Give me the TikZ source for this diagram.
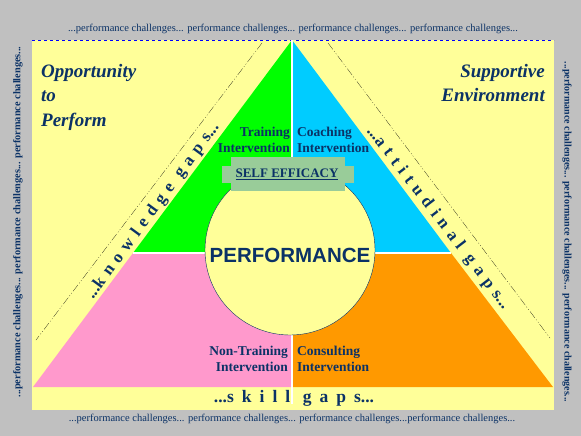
\documentclass[tikz,border=0pt]{standalone}
\usepackage{fontspec}
\setmainfont{Liberation Serif}
\newfontfamily\perffont{Liberation Sans}
\newfontfamily\gapfont[LetterSpace=36]{Liberation Serif}
\newfontfamily\widegapfont[LetterSpace=46]{Liberation Serif}
\newfontfamily\dotfont{Liberation Serif}
\newcommand{\gapdots}{{\dotfont\bfseries...}}
\usetikzlibrary{positioning}
\definecolor{navy}{HTML}{0B3266}
\definecolor{bggrey}{HTML}{C0C0C0}
\definecolor{paleyellow}{HTML}{FFFF99}
\definecolor{trainfill}{HTML}{00FF00}
\definecolor{coachfill}{HTML}{00CCFF}
\definecolor{nontrainfill}{HTML}{FF99CC}
\definecolor{consultfill}{HTML}{FF9900}
\definecolor{effgreen}{HTML}{99CC99}
\tikzset{
  border text/.style = {text = navy, font = \fontsize{10.5}{11}\selectfont, inner sep = 0pt},
  side text/.style = {text = navy, font = \fontsize{10.3}{11}\selectfont\bfseries, inner sep = 0pt},
  corner text/.style = {text = navy, font = \fontsize{19}{24.5}\selectfont\bfseries\itshape, inner sep = 0pt},
  box text/.style = {text = navy, font = \fontsize{13.5}{16}\selectfont\bfseries, inner sep = 0pt},
  gap text/.style = {text = navy, font = \fontsize{17}{18}\selectfont\gapfont\bfseries, inner sep = 0pt},
  gap line/.style = {black, very thin, dash pattern = on 8pt off 2pt on 1pt off 2pt on 1pt off 2pt}
}

\begin{document}
\begin{tikzpicture}[x=1pt, y=-1pt]
\useasboundingbox (0,0) rectangle (581,436);
\fill[bggrey] (0,0) rectangle (581,436);
\fill[paleyellow] (32,40) rectangle (554,410);
\draw[blue, dashed, thick] (32,40) -- (554,40);

% triangle corners
\coordinate (apex) at (292,40);
\coordinate (bl) at (33,387);
\coordinate (br) at (553,387);
\coordinate (ml) at (133,253);
\coordinate (mr) at (451,253);
\coordinate (mid) at (292,253);
\coordinate (mb) at (292,387);
\coordinate (foot) at (292,404);

\fill[trainfill] (apex) -- (ml) -- (mid) -- cycle;
\fill[coachfill] (apex) -- (mr) -- (mid) -- cycle;
\fill[nontrainfill] (ml) -- (bl) -- (mb) -- (mid) -- cycle;
\fill[consultfill] (mid) -- (mb) -- (br) -- (mr) -- cycle;
\draw[white, line width = 2pt] (apex) -- (foot);
\draw[white, line width = 2pt] (ml) -- (mr);

\draw[navy, fill = paleyellow] (290,250) circle (85pt);
\node[text = navy, font = \perffont\fontsize{20.5}{22}\selectfont\bfseries] (perf) at (290,255) {PERFORMANCE};

% self efficacy
\fill[effgreen] (222,166) rectangle (354,183);
\fill[effgreen] (231,157) rectangle (345,191);
\node[text = navy, font = \fontsize{13}{14}\selectfont\bfseries] (selfeff) at (287,174) {\underline{SELF EFFICACY}};

\node[box text, align = right, anchor = east] (train) at (290,140) {Training\\Intervention};
\node[box text, align = left, anchor = west] (coach) at (297,140) {Coaching\\Intervention};
\node[box text, align = right, anchor = east] (nontrain) at (288,359) {Non-Training\\Intervention};
\node[box text, align = left, anchor = west] (consult) at (297,359) {Consulting\\Intervention};

% gaps
\draw[gap line] (262,43) -- (36,340);
\draw[gap line] (328,43) -- (550,338);
\node[gap text, rotate = 53.8] (knowgap) at (153,211) {\gapdots knowledge gaps\gapdots};
\node[gap text, rotate = -52.6] (attgap) at (438,218) {\gapdots attitudinal gaps\gapdots};
\node[gap text, font = \fontsize{17.5}{18}\selectfont\widegapfont\bfseries] (skillgap) at (294,398) {\gapdots skill gaps\gapdots};

% corners
\node[corner text, align = left, anchor = north west] (opp) at (41,64) {Opportunity\\to\\Perform};
\node[corner text, align = right, anchor = north east] (supp) at (545,64) {Supportive\\Environment};

% border
\node[border text] (toptxt) at (293,29) {...performance challenges... performance challenges... performance challenges... performance challenges...};
\node[border text] (bottxt) at (292,419) {...performance challenges... performance challenges... performance challenges...performance challenges...};
\node[side text, rotate = 90] (lefttxt) at (18,222) {...performance challenges... performance challenges... performance challenges...};
\node[side text, font = \fontsize{10}{11}\selectfont\bfseries, rotate = -90] (righttxt) at (567,232) {...performance challenges... performance challenges... performance challenges...};
\end{tikzpicture}
\end{document}
